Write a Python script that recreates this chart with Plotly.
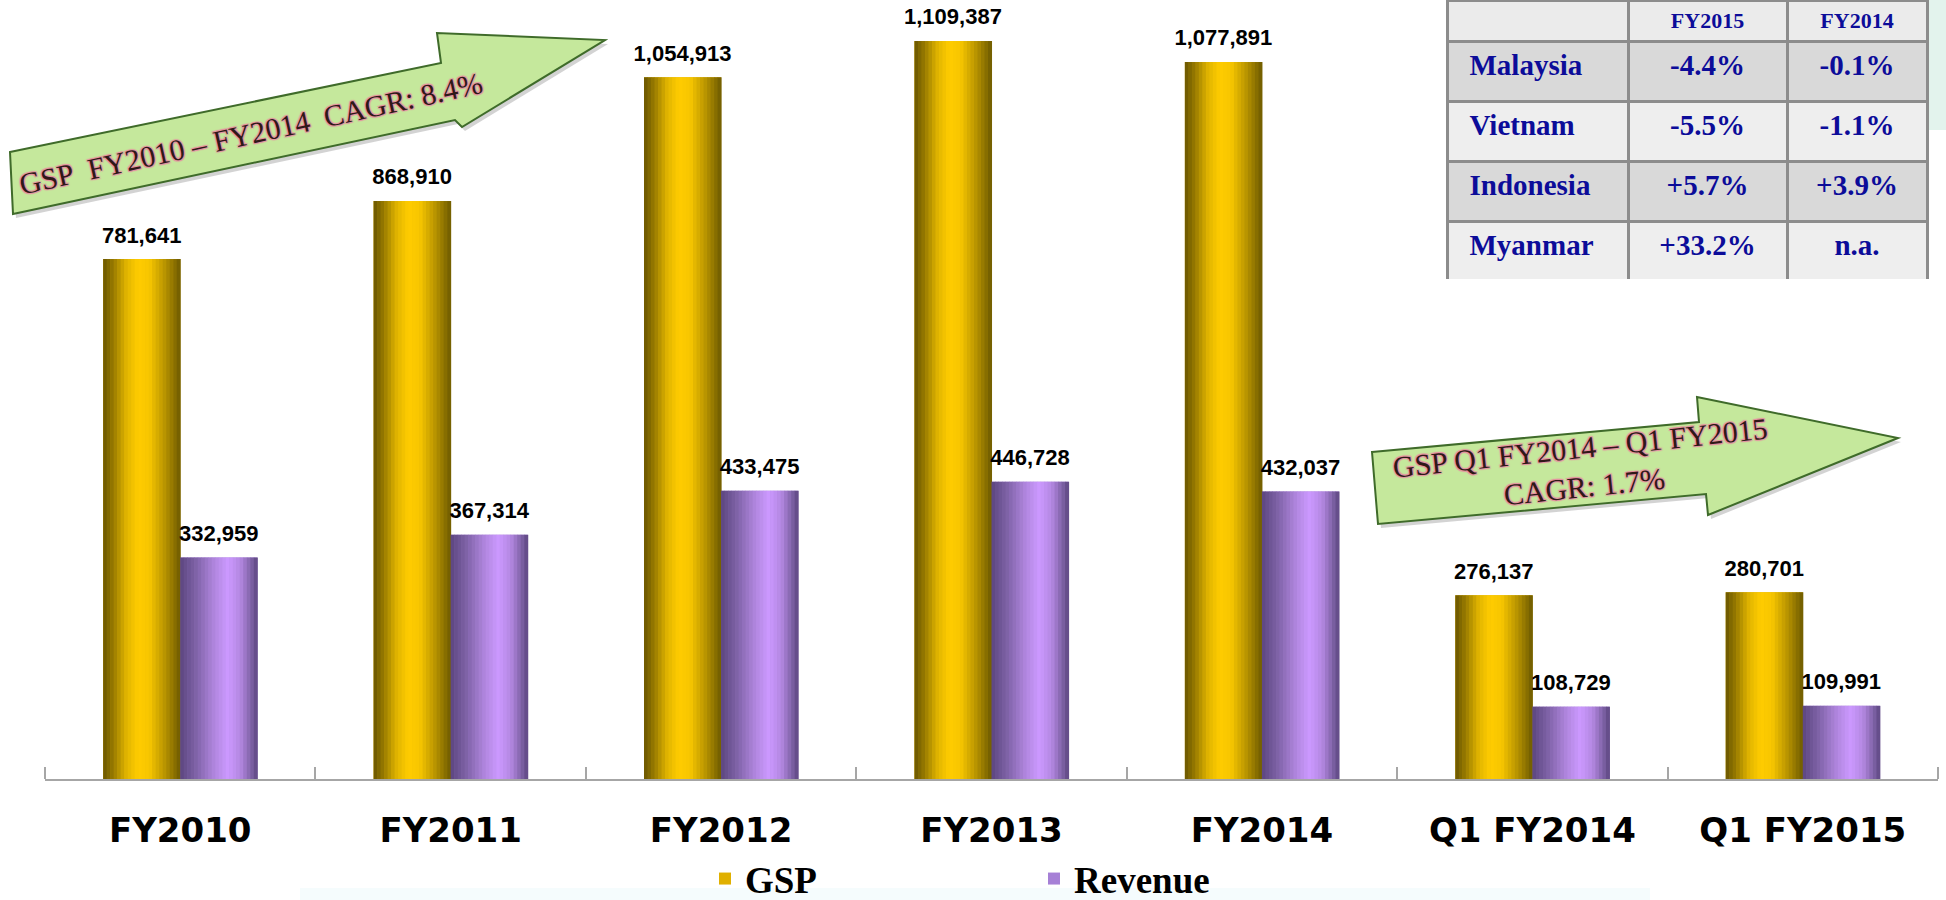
import numpy as np
import plotly.graph_objects as go

# ---------------- data ----------------
categories = ["FY2010", "FY2011", "FY2012", "FY2013", "FY2014", "Q1 FY2014", "Q1 FY2015"]
gsp = [781641, 868910, 1054913, 1109387, 1077891, 276137, 280701]
revenue = [332959, 367314, 433475, 446728, 432037, 108729, 109991]

table_header = ["", "FY2015", "FY2014"]
table_country = ["Malaysia", "Vietnam", "Indonesia", "Myanmar"]
table_fy2015 = ["-4.4%", "-5.5%", "+5.7%", "+33.2%"]
table_fy2014 = ["-0.1%", "-1.1%", "+3.9%", "n.a."]

arrow1_text = "GSP\u00a0\u00a0FY2010 – FY2014\u00a0\u00a0CAGR: 8.4%"
arrow2_text = "GSP Q1 FY2014 – Q1 FY2015<br>CAGR: 1.7%"

# ---------------- layout geometry ----------------
W, H = 1946, 900
ML, MR, MT, MB = 45, 8, 0, 121
PW, PH = W - ML - MR, H - MT - MB


def px2x(px):
    return (px - ML) / PW


def px2y(py):
    return (H - MB - py) / PH


idx = np.arange(len(categories))
BW = 0.285  # bar width in category units
NSTRIP = 22


def hex2rgb(h):
    h = h.lstrip("#")
    return [int(h[i:i + 2], 16) for i in (0, 2, 4)]


def grad(stops, t):
    for (t0, c0), (t1, c1) in zip(stops[:-1], stops[1:]):
        if t0 <= t <= t1:
            a = (t - t0) / (t1 - t0) if t1 > t0 else 0
            r0, r1 = hex2rgb(c0), hex2rgb(c1)
            r = [round(r0[i] + (r1[i] - r0[i]) * a) for i in range(3)]
            return "rgb(%d,%d,%d)" % tuple(r)
    return stops[-1][1]


gsp_stops = [(0, "#6A5600"), (0.12, "#937700"), (0.3, "#E0B400"), (0.45, "#FFCC00"),
             (0.6, "#F7C600"), (0.8, "#B89400"), (1.0, "#6E5A00")]
rev_stops = [(0, "#5C4680"), (0.2, "#7E62A6"), (0.45, "#B287E0"), (0.62, "#CC99FF"),
             (0.78, "#B488E2"), (0.92, "#7E62A6"), (1.0, "#5C4680")]

fig = go.Figure()

# legend / base bars
fig.add_trace(go.Bar(x=idx, y=gsp, width=BW, offset=-BW, name="GSP",
                     marker=dict(color="#E0B000", line=dict(width=0)), hoverinfo="skip"))
fig.add_trace(go.Bar(x=idx, y=revenue, width=BW, offset=0, name="Revenue",
                     marker=dict(color="#A680D6", line=dict(width=0)), hoverinfo="skip"))

sw = BW / NSTRIP
for series, stops, off0 in ((gsp, gsp_stops, -BW), (revenue, rev_stops, 0.0)):
    for k in range(NSTRIP):
        t = (k + 0.5) / NSTRIP
        fig.add_trace(go.Bar(x=idx, y=series, width=sw * 1.15, offset=off0 + k * sw,
                             marker=dict(color=grad(stops, t), line=dict(width=0)),
                             showlegend=False, hoverinfo="skip"))

# value labels
for series, off in ((gsp, -BW / 2), (revenue, BW / 2)):
    fig.add_trace(go.Scatter(x=idx + off, y=series, mode="markers+text",
                             marker=dict(size=16, opacity=0),
                             texttemplate="%{y:,.0f}", textposition="top center",
                             textfont=dict(family="Liberation Sans", size=22, color="#000000", weight="bold"),
                             showlegend=False, hoverinfo="skip", cliponaxis=False))

# table
row_fill = ["#D9D9D9", "#EEEEEE", "#D9D9D9", "#EEEEEE"]
NB = "\u00a0\u00a0"
fig.add_trace(go.Table(
    domain=dict(x=[px2x(1447), px2x(1927)], y=[px2y(279), 1.0]),
    columnwidth=[181, 159, 140],
    header=dict(values=["<b>%s</b>" % v for v in table_header],
                fill_color="#EBEBEB", line=dict(color="#8C8C8C", width=3),
                font=dict(family="Liberation Serif", size=22, color="#0C0C99"),
                align="center", height=39),
    cells=dict(values=[["<b>%s%s</b>" % (NB, v) for v in table_country],
                       ["<b>%s</b>" % v for v in table_fy2015],
                       ["<b>%s</b>" % v for v in table_fy2014]],
               fill_color=[row_fill, row_fill, row_fill],
               line=dict(color="#8C8C8C", width=3),
               font=dict(family="Liberation Serif", size=29, color="#0C0C99"),
               align=["left", "center", "center"], height=60)
))


def poly(points, dx=0, dy=0):
    s = "M " + " L ".join("%f,%f" % (px2x(x + dx), px2y(y + dy)) for x, y in points) + " Z"
    return s


arrow1 = [(10, 152), (441, 63), (437, 33), (605, 40), (462, 127), (455, 120), (13, 214)]
arrow2 = [(1372, 452), (1699, 422), (1697, 397), (1898, 438), (1708, 515), (1706, 494), (1378, 524)]

shapes = []
for ar in (arrow1, arrow2):
    shapes.append(dict(type="path", xref="paper", yref="paper", path=poly(ar, 3, 4),
                       fillcolor="rgba(80,80,80,0.25)", line=dict(width=0), layer="above"))
    shapes.append(dict(type="path", xref="paper", yref="paper", path=poly(ar),
                       fillcolor="#C5E89C", line=dict(color="#3F6B2A", width=2), layer="above"))

# faint background decorations
shapes.append(dict(type="rect", xref="paper", yref="paper", x0=px2x(300), x1=px2x(1650),
                   y0=px2y(900), y1=px2y(888), fillcolor="rgba(225,245,250,0.35)",
                   line=dict(width=0), layer="below"))
shapes.append(dict(type="rect", xref="paper", yref="paper", x0=px2x(1929), x1=px2x(1946),
                   y0=px2y(130), y1=px2y(0), fillcolor="rgba(200,232,220,0.5)",
                   line=dict(width=0), layer="below"))

outline = ("1px 1px 1px #E58FA0, -1px -1px 1px #E58FA0, 1px -1px 1px #E58FA0, "
           "-1px 1px 1px #E58FA0")
annotations = [
    dict(x=px2x(250), y=px2y(133), xref="paper", yref="paper", text=arrow1_text,
         showarrow=False, textangle=-12.5, xanchor="center", yanchor="middle",
         font=dict(family="Liberation Serif", size=30, color="#301818", shadow=outline)),
    dict(x=px2x(1582), y=px2y(467), xref="paper", yref="paper", text=arrow2_text,
         showarrow=False, textangle=-6, xanchor="center", yanchor="middle",
         font=dict(family="Liberation Serif", size=30, color="#301818", shadow=outline)),
]

fig.update_layout(
    width=W, height=H,
    margin=dict(l=ML, r=MR, t=MT, b=MB, pad=0, autoexpand=False),
    paper_bgcolor="#FFFFFF", plot_bgcolor="rgba(0,0,0,0)",
    barmode="overlay",
    showlegend=True,
    legend=dict(orientation="h", x=px2x(705), xanchor="left", y=px2y(879), yanchor="middle",
                entrywidth=284, entrywidthmode="pixels",
                font=dict(family="Liberation Serif", size=37, color="#000000", weight="bold"),
                bgcolor="rgba(0,0,0,0)", itemclick=False, itemdoubleclick=False),
    xaxis=dict(range=[-0.5, len(categories) - 0.5], tickvals=idx, ticktext=categories,
               showgrid=False, zeroline=False, showline=True, linecolor="#A6A6A6", linewidth=2,
               ticks="", ticklabelstandoff=20,
               tickfont=dict(family="DejaVu Sans", size=34, color="#000000", weight="bold"),
               minor=dict(tickvals=list(np.arange(-0.5, len(categories), 1.0)), ticks="inside",
                          ticklen=12, tickwidth=2, tickcolor="#A6A6A6", showgrid=False),
               fixedrange=True, automargin=False),
    yaxis=dict(range=[0, 1171000], visible=False, showgrid=False, fixedrange=True),
    shapes=shapes,
    annotations=annotations,
    hovermode=False,
)

fig.write_html("out.html")
